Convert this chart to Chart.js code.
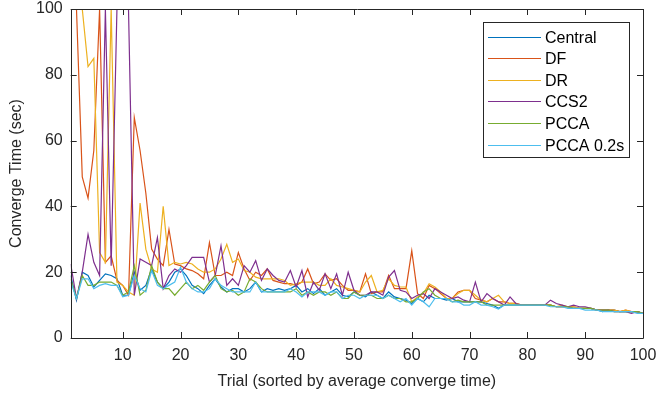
<!DOCTYPE html>
<html>
<head>
<meta charset="utf-8">
<script src="https://cdn.jsdelivr.net/npm/chart.js@4.4.0/dist/chart.umd.min.js"></script>
<style>
  html, body { margin: 0; padding: 0; background: #fff; }
  #wrap { width: 657px; height: 398px; position: relative; }
</style>
</head>
<body>
<div id="wrap"><canvas id="canvas"></canvas></div>
<script>
//data
var trials = [];
for (var t = 1; t <= 100; t++) { trials.push(t); }

var seriesNames = ['Central', 'DF', 'DR', 'CCS2', 'PCCA', 'PCCA 0.2s'];
var seriesColors = ['#0072BD', '#D95319', '#EDB120', '#7E2F8E', '#77AC30', '#4DBEEE'];

var central = [
    19, 11.5, 20, 19, 15.5, 17.5, 19.5, 19, 18, 13,
    13, 20, 14.5, 16, 21, 17, 15, 17, 20, 21,
    19, 16, 15, 13.5, 16, 18, 15.5, 14, 15, 15,
    14, 15, 17, 14, 15, 14.5, 15, 14.5, 15, 16,
    14, 15, 13.5, 15, 13, 14, 15, 13, 12.5, 14,
    13, 12.5, 14, 13, 12, 14, 12.5, 12, 11.5, 10.5,
    12, 11, 13, 12, 12, 11.5, 12, 11, 11, 11,
    11, 11, 10.5, 10, 9, 10, 10, 10, 10, 10,
    10, 10, 10, 10, 9.5, 9.5, 9.5, 9, 9, 9,
    9, 8.5, 8, 8.5, 8.5, 8, 8, 8, 8, 7.5
];
var df = [
    100, 100, 49, 42.5, 57, 100, 23, 25, 17.5, 16,
    13, 67, 57, 44, 27, 24, 22, 33, 22.5, 22,
    21, 20.5, 19.5, 18, 29, 19, 19, 20, 19, 26,
    21, 17.5, 20, 19, 21, 17.5, 17, 16.5, 16.5, 16,
    17, 21, 16.5, 17, 19.5, 17.5, 18, 16, 14.5, 14.5,
    14, 19.5, 13.5, 14, 14, 19, 15, 15, 15, 26.5,
    13.5, 12, 16, 15, 13.5, 12, 12, 14, 14.5, 14.5,
    12, 11.5, 11, 12, 11, 11, 10.5, 10.5, 10, 10,
    10, 10, 10, 10, 9.5, 9.5, 9.5, 9.5, 9, 9,
    9, 8.5, 8.5, 8.5, 8.5, 8, 8.5, 8, 8, 7.5
];
var dr = [
    100, 100, 100, 82.5, 85, 26, 23, 100, 17, 16,
    14, 13, 41, 27, 21, 20, 40, 22, 23, 22.5,
    23, 22.5, 21, 20, 20, 21, 24, 28.5, 23, 24,
    20.5, 20, 18.5, 18, 18, 18, 18, 17.5, 16, 16.5,
    17, 17, 17, 16, 16, 18, 16, 15.5, 15, 14.5,
    14, 17, 19, 14, 14.5, 18, 16, 15.5, 15.5, 11,
    12.5, 13.5, 16.5, 15.5, 14, 12, 12, 13.5, 14.5, 14.5,
    13, 11.5, 11, 12, 13, 11, 10.5, 10.5, 10, 10,
    10, 10, 10, 10, 9.5, 10, 9.5, 9.5, 9, 9,
    9, 8.5, 8.5, 8.5, 8.5, 8, 8.5, 8, 8, 7.5
];
var ccs2 = [
    22.5, 12, 20, 31.5, 23, 19, 100, 22, 100, 100,
    100, 13, 24, 23, 22, 30.5, 15, 19, 21, 20,
    22, 24.5, 24.5, 24.5, 17, 19, 28, 16, 18, 16,
    22, 20, 23.5, 17.5, 21, 19, 17.5, 17, 20.5, 15.5,
    20.5, 12.5, 17, 14.5, 19.5, 15, 19.5, 13, 20, 14.5,
    13, 13, 14, 14, 13, 18.5, 20.5, 14.5, 14, 12,
    13, 13.5, 12, 15, 14, 13, 12, 12.5, 11.5, 11,
    17, 11, 13.5, 12, 11, 10, 12.5, 10.5, 10, 10,
    10, 10, 10, 11.5, 10.5, 10, 9.5, 10, 9.5, 9.5,
    9, 8.5, 8.5, 8.5, 8, 8, 8, 7.5, 8, 7.5
];
var pcca = [
    18, 12, 19, 16, 16, 17, 17, 17, 16, 13,
    14, 22, 13, 14.5, 22, 17, 15, 15, 13, 15,
    17, 15, 16, 14.5, 17, 19, 15, 14, 14.5, 13,
    14, 18, 17, 15, 14, 14, 14, 14, 14, 15,
    13, 14, 13, 14, 14, 13, 14, 12, 12, 14,
    13, 13, 13, 12, 12, 13, 12, 12, 11, 11,
    12, 14, 15, 13, 12, 12, 11, 11.5, 11, 11,
    11, 11, 10, 10, 10, 10, 10, 10, 10, 10,
    10, 10, 10, 10, 9.5, 9.5, 9.5, 9, 9, 9,
    9, 8.5, 8.5, 8.5, 8, 8, 8, 8, 8, 7.5
];
var pcca02 = [
    17, 12, 18, 18, 15, 16, 16.5, 16, 16, 12.5,
    13, 19, 15, 14, 20.5, 16, 15, 16, 17, 21.5,
    17, 15, 14, 14, 15, 18, 16, 15, 14, 14,
    14, 14, 17, 14, 14, 14, 14, 14, 15, 14,
    12.5, 14, 14, 14, 13, 14, 14, 12, 13, 13,
    12, 13, 13, 13, 12, 13, 12, 11, 12, 10,
    12, 11, 9.5, 12, 12, 12, 11, 11, 10, 10,
    11, 10, 10, 9.5, 8.8, 10, 10, 10, 10, 10,
    10, 10, 10, 9.5, 9.5, 9.5, 9, 9, 9, 8.5,
    8.5, 8.5, 8, 8, 8, 8, 8, 8, 7.5, 7.5
];

var xTicks = [10, 20, 30, 40, 50, 60, 70, 80, 90, 100];
var yTicks = [0, 20, 40, 60, 80, 100];

var allSeries = [central, df, dr, ccs2, pcca, pcca02];
var axisColor = '#262626';
var fontName = '"Liberation Sans", Arial, Helvetica, sans-serif';

//build datasets, last one drawn on top like matlab
var datasets = [];
for (var i = 0; i < allSeries.length; i++) {
    var pts = [];
    for (var j = 0; j < trials.length; j++) {
        pts.push({x: trials[j], y: allSeries[i][j]});
    }
    datasets.push({
        label: seriesNames[i],
        data: pts,
        borderColor: seriesColors[i],
        backgroundColor: seriesColors[i],
        borderWidth: 1.2,
        pointRadius: 0,
        tension: 0,
        fill: false,
        order: allSeries.length - i
    });
}

//box + inward ticks + legend box
var matlabBox = {
    id: 'matlabBox',
    afterDatasetsDraw: function (chart) {
        var ctx = chart.ctx;
        var a = chart.chartArea;
        var xs = chart.scales.x;
        var ys = chart.scales.y;
        ctx.save();
        ctx.strokeStyle = axisColor;
        ctx.lineWidth = 1;
        ctx.beginPath();
        ctx.rect(Math.round(a.left) + 0.5, Math.round(a.top) + 0.5,
            Math.round(a.right - a.left), Math.round(a.bottom - a.top));
        ctx.stroke();
        ctx.beginPath();
        xTicks.forEach(function (v) {
            var px = Math.round(xs.getPixelForValue(v)) + 0.5;
            ctx.moveTo(px, a.bottom); ctx.lineTo(px, a.bottom - 6);
            ctx.moveTo(px, a.top); ctx.lineTo(px, a.top + 6);
        });
        yTicks.forEach(function (v) {
            var py = Math.round(ys.getPixelForValue(v)) + 0.5;
            ctx.moveTo(a.left, py); ctx.lineTo(a.left + 6, py);
            ctx.moveTo(a.right, py); ctx.lineTo(a.right - 6, py);
        });
        ctx.stroke();

        //legend
        var lw = 146, rowH = 21.6, lh = 135;
        var lx = Math.round(a.right - 14 - lw);
        var ly = Math.round(a.top + 13);
        ctx.fillStyle = '#fff';
        ctx.fillRect(lx, ly, lw, lh);
        ctx.strokeStyle = axisColor;
        ctx.lineWidth = 1;
        ctx.strokeRect(lx + 0.5, ly + 0.5, lw, lh);
        ctx.font = '16px ' + fontName;
        ctx.textBaseline = 'middle';
        ctx.textAlign = 'left';
        for (var k = 0; k < seriesNames.length; k++) {
            var cy = Math.round(ly + 14.5 + k * rowH) + 0.5;
            ctx.beginPath();
            ctx.strokeStyle = seriesColors[k];
            ctx.lineWidth = 1;
            ctx.moveTo(lx + 5, cy);
            ctx.lineTo(lx + 58, cy);
            ctx.stroke();
            ctx.fillStyle = '#000';
            ctx.fillText(seriesNames[k], lx + 62, cy + 1);
        }
        ctx.restore();
    }
};

var config = {
    type: 'line',
    data: { datasets: datasets },
    options: {
        responsive: false,
        animation: false,
        devicePixelRatio: 1,
        layout: { padding: { top: 9, right: 14, left: 0, bottom: 0 } },
        plugins: { legend: { display: false }, tooltip: { enabled: false } },
        scales: {
            x: {
                type: 'linear',
                min: 1,
                max: 100,
                afterBuildTicks: function (s) { s.ticks = xTicks.map(function (v) { return {value: v}; }); },
                afterFit: function (s) { s.height = 60; s.paddingLeft = 0; s.paddingRight = 0; },
                grid: { display: false, drawTicks: false },
                border: { display: false },
                ticks: { color: axisColor, padding: 8, maxRotation: 0, autoSkip: false,
                    font: { family: fontName, size: 16 } },
                title: { display: true, text: 'Trial (sorted by average converge time)', color: axisColor,
                    padding: { top: 0, bottom: 7 }, font: { family: fontName, size: 16 } }
            },
            y: {
                type: 'linear',
                min: 0,
                max: 100,
                afterBuildTicks: function (s) { s.ticks = yTicks.map(function (v) { return {value: v}; }); },
                afterFit: function (s) { s.width = 70.7; s.paddingTop = 0; s.paddingBottom = 0; },
                grid: { display: false, drawTicks: false },
                border: { display: false },
                ticks: { color: axisColor, padding: 8, autoSkip: false,
                    font: { family: fontName, size: 16 } },
                title: { display: true, text: 'Converge Time (sec)', color: axisColor,
                    padding: { top: 7, bottom: 0 }, font: { family: fontName, size: 16 } }
            }
        }
    },
    plugins: [matlabBox]
};

window.onload = function () {
    var cv = document.getElementById('canvas');
    cv.width = 657;
    cv.height = 398;
    cv.style.width = '657px';
    cv.style.height = '398px';
    window.myLine = new Chart(cv.getContext('2d'), config);
};
</script>
</body>
</html>
